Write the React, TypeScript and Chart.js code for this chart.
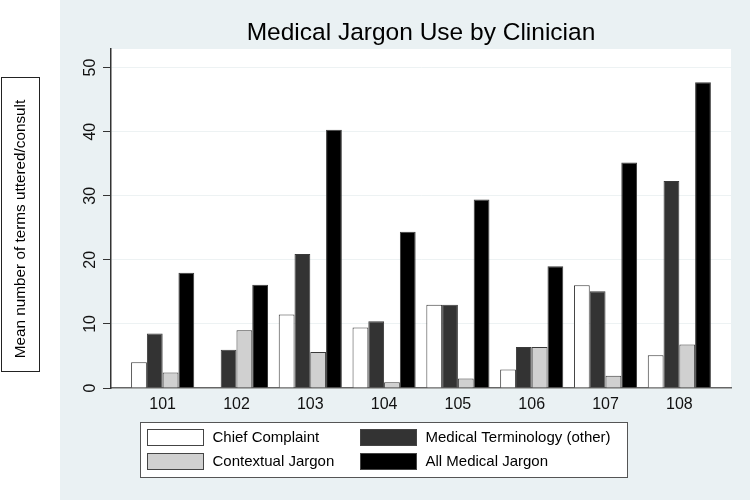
import React, { useEffect, useRef } from 'react';
import { Chart, registerables } from 'chart.js';

Chart.register(...registerables);

const clinicians = [101, 102, 103, 104, 105, 106, 107, 108];
const clinicianLabels = ['101', '102', '103', '104', '105', '106', '107', '108'];
const chiefComplaint = [4.0, 0, 11.45, 9.45, 13.0, 2.9, 16.05, 5.1];
const medicalTerminology = [8.5, 5.95, 20.9, 10.4, 13.0, 6.4, 15.1, 32.3];
const contextualJargon = [2.4, 9.0, 5.6, 0.9, 1.5, 6.4, 1.9, 6.8];
const allMedicalJargon = [18.0, 16.1, 40.3, 24.4, 29.4, 19.0, 35.2, 47.7];
const yTicks = [0, 10, 20, 30, 40, 50];
const seriesNames = ['Chief Complaint', 'Medical Terminology (other)', 'Contextual Jargon', 'All Medical Jargon'];
const seriesColors = ['#FFFFFF', '#333333', '#D0D0D0', '#000000'];
const titleText = 'Medical Jargon Use by Clinician';
const yAxisTitle = 'Mean number of terms uttered/consult';

const FONT = '"Liberation Sans", Arial, sans-serif';
const PANEL = '#EAF1F3';

export default function App() {
  const ref = useRef<HTMLCanvasElement>(null);

  useEffect(() => {
    const canvas = ref.current;
    if (!canvas) return;
    const series = [chiefComplaint, medicalTerminology, contextualJargon, allMedicalJargon];

    const decor = {
      id: 'decor',
      beforeDraw(chart: any) {
        const { ctx, chartArea } = chart;
        ctx.save();
        ctx.fillStyle = '#FFFFFF';
        ctx.fillRect(0, 0, chart.width, chart.height);
        ctx.fillStyle = PANEL;
        ctx.fillRect(60, 0, chart.width - 60, 500);
        ctx.fillStyle = '#FFFFFF';
        ctx.fillRect(chartArea.left, chartArea.top, chartArea.right - chartArea.left, chartArea.bottom - chartArea.top);
        ctx.restore();
      },
      afterDraw(chart: any) {
        const { ctx, chartArea } = chart;
        const yScale = chart.scales.y;
        ctx.save();
        // title
        ctx.fillStyle = '#000';
        ctx.font = `24.5px ${FONT}`;
        ctx.textAlign = 'center';
        ctx.textBaseline = 'middle';
        ctx.fillText(titleText, (chartArea.left + chartArea.right) / 2, 33);

        // y tick labels (rotated)
        ctx.font = `16px ${FONT}`;
        ctx.fillStyle = '#111';
        yTicks.forEach((v) => {
          const y = yScale.getPixelForValue(v);
          ctx.save();
          ctx.translate(91, y);
          ctx.rotate(-Math.PI / 2);
          ctx.textAlign = 'center';
          ctx.textBaseline = 'middle';
          ctx.fillText(String(v), 0, 0);
          ctx.restore();
        });

        // y axis title box
        ctx.fillStyle = '#FFFFFF';
        ctx.fillRect(1.5, 77.5, 38, 294);
        ctx.strokeStyle = '#222';
        ctx.lineWidth = 1;
        ctx.strokeRect(1.5, 77.5, 38, 294);
        ctx.save();
        ctx.translate(21, 229);
        ctx.rotate(-Math.PI / 2);
        ctx.fillStyle = '#000';
        ctx.font = `15.3px ${FONT}`;
        ctx.textAlign = 'center';
        ctx.textBaseline = 'middle';
        ctx.fillText(yAxisTitle, 0, 0);
        ctx.restore();

        // legend
        ctx.fillStyle = '#FFFFFF';
        ctx.fillRect(140.5, 422.5, 487, 55);
        ctx.strokeStyle = '#555';
        ctx.strokeRect(140.5, 422.5, 487, 55);
        ctx.font = `15px ${FONT}`;
        ctx.textAlign = 'left';
        ctx.textBaseline = 'middle';
        seriesNames.forEach((name, i) => {
          const col = i % 2;
          const row = Math.floor(i / 2);
          const sx = col === 0 ? 147.5 : 360.5;
          const sy = row === 0 ? 429.5 : 453.5;
          ctx.fillStyle = seriesColors[i];
          ctx.fillRect(sx, sy, 56, 16);
          ctx.strokeStyle = '#444';
          ctx.strokeRect(sx, sy, 56, 16);
          ctx.fillStyle = '#000';
          ctx.fillText(name, sx + 65, sy + 8.5);
        });
        ctx.restore();
      },
    };

    const chart = new Chart(canvas, {
      type: 'bar',
      data: {
        datasets: series.map((vals, i) => ({
          label: seriesNames[i],
          data: clinicians.map((c, j) => ({ x: c, y: vals[j] })),
          backgroundColor: seriesColors[i],
          borderColor: '#3a3a3a',
          borderWidth: 1,
          barPercentage: 1,
          categoryPercentage: 0.855,
        })),
      },
      options: {
        animation: false,
        responsive: false,
        events: [],
        layout: { padding: { left: 0, right: 19, top: 49, bottom: 84 } },
        plugins: { legend: { display: false }, title: { display: false }, tooltip: { enabled: false } },
        scales: {
          x: {
            type: 'linear',
            min: 100.3,
            max: 108.7,
            offset: false,
            grid: { display: false, drawTicks: false },
            border: { display: true, color: '#666', width: 1.5 },
            afterBuildTicks: (axis: any) => {
              axis.ticks = clinicians.map((v) => ({ value: v }));
            },
            afterFit: (scale: any) => {
              scale.height = 30;
            },
            ticks: {
              autoSkip: false,
              maxRotation: 0,
              padding: 7,
              color: '#111',
              font: { size: 16, family: FONT },
              callback: (value: any) => {
                const idx = clinicians.indexOf(Number(value));
                return idx >= 0 ? clinicianLabels[idx] : '';
              },
            },
          },
          y: {
            type: 'linear',
            min: 0,
            max: 52.9,
            afterBuildTicks: (axis: any) => {
              axis.ticks = yTicks.map((v) => ({ value: v }));
            },
            afterFit: (scale: any) => {
              scale.width = 111;
            },
            grid: { color: '#EDF2F3', lineWidth: 1, drawTicks: true, tickLength: 8, tickColor: '#333', tickWidth: 1 },
            border: { display: true, color: '#333', width: 1.5 },
            ticks: { display: false },
          },
        },
      },
      plugins: [decor],
    });
    return () => chart.destroy();
  }, []);

  return (
    <div style={{ position: 'absolute', left: 0, top: 0, width: 750, height: 502 }}>
      <canvas ref={ref} width={750} height={502} style={{ display: 'block' }} />
    </div>
  );
}
